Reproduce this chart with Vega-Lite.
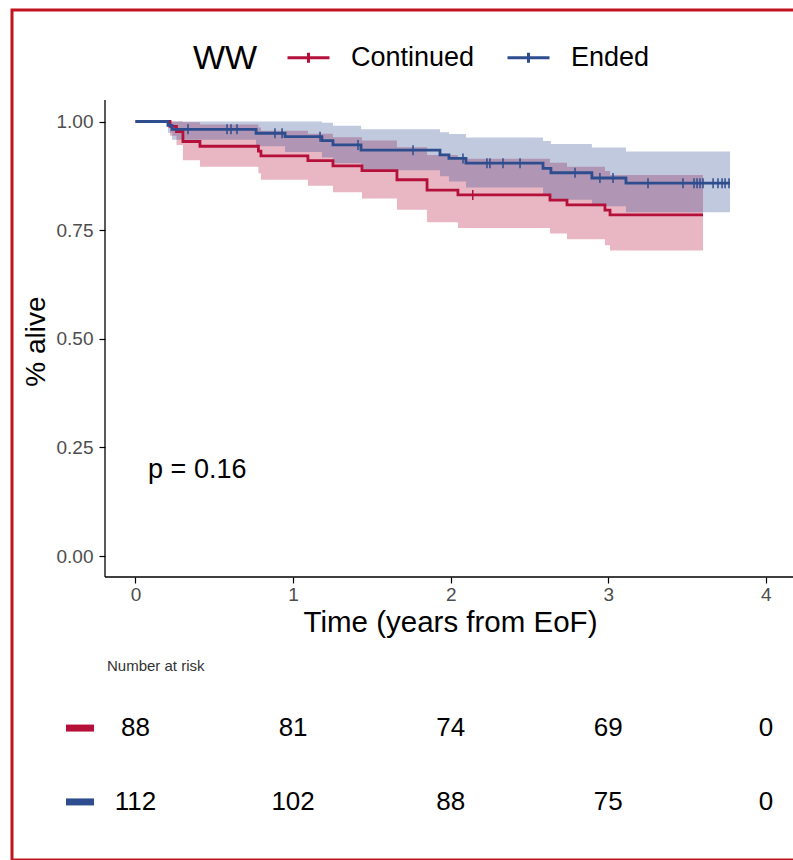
{
  "$schema": "https://vega.github.io/schema/vega-lite/v6.json",
  "autosize": {"type": "none"},
  "padding": {"left": 12, "top": 10, "right": -3, "bottom": 0},
  "width": 784,
  "height": 850,
  "background": "white",
  "config": {
    "font": "Liberation Sans",
    "view": {"stroke": "#C0141E", "strokeWidth": 3}
  },
  "datasets": {
    "km": [
      {"group": "Continued", "time": 0, "surv": 1, "lower": 1, "upper": 1},
      {"group": "Continued", "time": 0.219, "surv": 0.989, "lower": 0.967, "upper": 1},
      {"group": "Continued", "time": 0.26, "surv": 0.977, "lower": 0.946, "upper": 1},
      {"group": "Continued", "time": 0.301, "surv": 0.954, "lower": 0.911, "upper": 0.998},
      {"group": "Continued", "time": 0.409, "surv": 0.943, "lower": 0.896, "upper": 0.993},
      {"group": "Continued", "time": 0.78, "surv": 0.932, "lower": 0.881, "upper": 0.986},
      {"group": "Continued", "time": 0.796, "surv": 0.921, "lower": 0.866, "upper": 0.979},
      {"group": "Continued", "time": 1.094, "surv": 0.91, "lower": 0.852, "upper": 0.972},
      {"group": "Continued", "time": 1.253, "surv": 0.898, "lower": 0.837, "upper": 0.964},
      {"group": "Continued", "time": 1.437, "surv": 0.887, "lower": 0.823, "upper": 0.956},
      {"group": "Continued", "time": 1.659, "surv": 0.866, "lower": 0.797, "upper": 0.941},
      {"group": "Continued", "time": 1.85, "surv": 0.842, "lower": 0.768, "upper": 0.923},
      {"group": "Continued", "time": 2.046, "surv": 0.831, "lower": 0.755, "upper": 0.914},
      {"group": "Continued", "time": 2.63, "surv": 0.819, "lower": 0.742, "upper": 0.905},
      {"group": "Continued", "time": 2.738, "surv": 0.808, "lower": 0.729, "upper": 0.896},
      {"group": "Continued", "time": 2.979, "surv": 0.796, "lower": 0.715, "upper": 0.886},
      {"group": "Continued", "time": 3.011, "surv": 0.785, "lower": 0.703, "upper": 0.877},
      {"group": "Continued", "time": 3.601, "surv": 0.785, "lower": 0.703, "upper": 0.877},
      {"group": "Ended", "time": 0, "surv": 1, "lower": 1, "upper": 1},
      {"group": "Ended", "time": 0.206, "surv": 0.991, "lower": 0.974, "upper": 1},
      {"group": "Ended", "time": 0.232, "surv": 0.982, "lower": 0.958, "upper": 1},
      {"group": "Ended", "time": 0.765, "surv": 0.973, "lower": 0.943, "upper": 1},
      {"group": "Ended", "time": 0.949, "surv": 0.965, "lower": 0.93, "upper": 1},
      {"group": "Ended", "time": 1.183, "surv": 0.956, "lower": 0.917, "upper": 0.997},
      {"group": "Ended", "time": 1.253, "surv": 0.946, "lower": 0.904, "upper": 0.99},
      {"group": "Ended", "time": 1.431, "surv": 0.934, "lower": 0.888, "upper": 0.982},
      {"group": "Ended", "time": 1.932, "surv": 0.923, "lower": 0.874, "upper": 0.975},
      {"group": "Ended", "time": 1.989, "surv": 0.915, "lower": 0.862, "upper": 0.971},
      {"group": "Ended", "time": 2.097, "surv": 0.904, "lower": 0.848, "upper": 0.963},
      {"group": "Ended", "time": 2.586, "surv": 0.892, "lower": 0.833, "upper": 0.955},
      {"group": "Ended", "time": 2.636, "surv": 0.882, "lower": 0.82, "upper": 0.948},
      {"group": "Ended", "time": 2.896, "surv": 0.87, "lower": 0.805, "upper": 0.94},
      {"group": "Ended", "time": 3.112, "surv": 0.858, "lower": 0.791, "upper": 0.931},
      {"group": "Ended", "time": 3.772, "surv": 0.858, "lower": 0.791, "upper": 0.931}
    ],
    "censor": [
      {"group": "Continued", "time": 2.14, "surv": 0.831},
      {"group": "Ended", "time": 0.333, "surv": 0.982},
      {"group": "Ended", "time": 0.581, "surv": 0.982},
      {"group": "Ended", "time": 0.606, "surv": 0.982},
      {"group": "Ended", "time": 0.644, "surv": 0.982},
      {"group": "Ended", "time": 0.885, "surv": 0.973},
      {"group": "Ended", "time": 0.93, "surv": 0.973},
      {"group": "Ended", "time": 1.171, "surv": 0.965},
      {"group": "Ended", "time": 1.412, "surv": 0.946},
      {"group": "Ended", "time": 1.761, "surv": 0.934},
      {"group": "Ended", "time": 2.078, "surv": 0.915},
      {"group": "Ended", "time": 2.23, "surv": 0.904},
      {"group": "Ended", "time": 2.249, "surv": 0.904},
      {"group": "Ended", "time": 2.332, "surv": 0.904},
      {"group": "Ended", "time": 2.44, "surv": 0.904},
      {"group": "Ended", "time": 2.789, "surv": 0.882},
      {"group": "Ended", "time": 2.947, "surv": 0.87},
      {"group": "Ended", "time": 3.03, "surv": 0.87},
      {"group": "Ended", "time": 3.252, "surv": 0.858},
      {"group": "Ended", "time": 3.474, "surv": 0.858},
      {"group": "Ended", "time": 3.544, "surv": 0.858},
      {"group": "Ended", "time": 3.563, "surv": 0.858},
      {"group": "Ended", "time": 3.582, "surv": 0.858},
      {"group": "Ended", "time": 3.601, "surv": 0.858},
      {"group": "Ended", "time": 3.665, "surv": 0.858},
      {"group": "Ended", "time": 3.696, "surv": 0.858},
      {"group": "Ended", "time": 3.722, "surv": 0.858},
      {"group": "Ended", "time": 3.741, "surv": 0.858},
      {"group": "Ended", "time": 3.766, "surv": 0.858}
    ],
    "risk": [
      {"group": "Continued", "time": 0, "n": 88},
      {"group": "Continued", "time": 1, "n": 81},
      {"group": "Continued", "time": 2, "n": 74},
      {"group": "Continued", "time": 3, "n": 69},
      {"group": "Continued", "time": 4, "n": 0},
      {"group": "Ended", "time": 0, "n": 112},
      {"group": "Ended", "time": 1, "n": 102},
      {"group": "Ended", "time": 2, "n": 88},
      {"group": "Ended", "time": 3, "n": 75},
      {"group": "Ended", "time": 4, "n": 0}
    ]
  },
  "layer": [
    {
      "data": {"name": "km"},
      "mark": {"type": "area", "interpolate": "step-after", "fillOpacity": 0.3},
      "encoding": {
        "x": {
          "field": "time", "type": "quantitative",
          "scale": {"domain": [-0.7836, 4.1911], "nice": false, "zero": false},
          "axis": {
            "values": [0, 1, 2, 3, 4], "format": "d", "offset": -283,
            "domain": false, "grid": false,
            "tickSize": 6, "tickWidth": 1.2, "tickColor": "black",
            "labelFontSize": 19, "labelColor": "#4d4d4d", "labelPadding": 2,
            "title": "Time (years from EoF)", "titleFontSize": 29.5, "titleFontWeight": "normal",
            "titleColor": "black", "titleX": 438, "titleY": 45,
            "titleBaseline": "middle", "titleAlign": "center"
          }
        },
        "y": {
          "field": "upper", "type": "quantitative",
          "scale": {"domain": [-0.69965, 1.25662], "nice": false, "zero": false},
          "axis": {
            "values": [0, 0.25, 0.5, 0.75, 1], "format": ".2f", "offset": -93,
            "domain": false, "grid": false,
            "tickSize": 6, "tickWidth": 1.2, "tickColor": "black",
            "labelFontSize": 19, "labelColor": "#4d4d4d", "labelPadding": 6,
            "title": "% alive", "titleFontSize": 28, "titleFontWeight": "normal",
            "titleColor": "black", "titleX": -69, "titleY": 331,
            "titleBaseline": "middle", "titleAlign": "center"
          }
        },
        "y2": {"field": "lower"},
        "color": {
          "field": "group", "type": "nominal",
          "scale": {"domain": ["Continued", "Ended"], "range": ["#B5103A", "#2E4D8E"]}
        }
      }
    },
    {
      "data": {"name": "km"},
      "mark": {"type": "line", "interpolate": "step-after", "strokeWidth": 2.8},
      "encoding": {
        "x": {"field": "time", "type": "quantitative"},
        "y": {"field": "surv", "type": "quantitative"},
        "color": {
          "field": "group", "type": "nominal",
          "legend": {
            "orient": "none", "legendX": 274, "legendY": 25,
            "direction": "horizontal",
            "title": null,
            "labelFontSize": 27, "labelColor": "black", "labelOffset": 20,
            "columnPadding": 26,
            "symbolType": "M-1,0H1M0,-0.24V0.24", "symbolSize": 1764,
            "symbolStrokeWidth": 3, "symbolOpacity": 1
          }
        }
      }
    },
    {
      "data": {"name": "censor"},
      "mark": {"type": "point", "shape": "M0,-1V1", "size": 100, "strokeWidth": 1.5, "filled": false, "opacity": 1},
      "encoding": {
        "x": {"field": "time", "type": "quantitative"},
        "y": {"field": "surv", "type": "quantitative"},
        "color": {"field": "group", "type": "nominal"}
      }
    },
    {
      "data": {"values": [{}]},
      "mark": {"type": "rule", "color": "black", "strokeWidth": 1.3},
      "encoding": {
        "x": {"datum": -0.1935},
        "y": {"datum": -0.0483},
        "y2": {"datum": 1.0495}
      }
    },
    {
      "data": {"values": [{}]},
      "mark": {"type": "rule", "color": "black", "strokeWidth": 1.3},
      "encoding": {
        "x": {"datum": -0.1935},
        "x2": {"datum": 4.1911},
        "y": {"datum": -0.0483}
      }
    },
    {
      "data": {"values": [{"label": "WW"}]},
      "mark": {"type": "text", "align": "left", "baseline": "middle", "fontSize": 34, "color": "black"},
      "encoding": {
        "x": {"datum": 0.365},
        "y": {"datum": 1.144},
        "text": {"field": "label"}
      }
    },
    {
      "data": {"values": [{"label": "p = 0.16"}]},
      "mark": {"type": "text", "align": "left", "baseline": "middle", "fontSize": 27, "color": "black"},
      "encoding": {
        "x": {"datum": 0.08},
        "y": {"datum": 0.198},
        "text": {"field": "label"}
      }
    },
    {
      "data": {"values": [{"label": "Number at risk"}]},
      "mark": {"type": "text", "align": "left", "baseline": "middle", "fontSize": 15, "color": "#333333"},
      "encoding": {
        "x": {"datum": -0.181},
        "y": {"datum": -0.253},
        "text": {"field": "label"}
      }
    },
    {
      "data": {"name": "risk"},
      "transform": [{"filter": "datum.group == 'Continued'"}],
      "mark": {"type": "text", "align": "center", "baseline": "middle", "fontSize": 26, "color": "black"},
      "encoding": {
        "x": {"field": "time", "type": "quantitative"},
        "y": {"datum": -0.396},
        "text": {"field": "n", "type": "quantitative"}
      }
    },
    {
      "data": {"name": "risk"},
      "transform": [{"filter": "datum.group == 'Ended'"}],
      "mark": {"type": "text", "align": "center", "baseline": "middle", "fontSize": 26, "color": "black"},
      "encoding": {
        "x": {"field": "time", "type": "quantitative"},
        "y": {"datum": -0.566},
        "text": {"field": "n", "type": "quantitative"}
      }
    },
    {
      "data": {"name": "risk"},
      "transform": [{"filter": "datum.group == 'Continued' && datum.time == 0"}],
      "mark": {"type": "rule", "strokeWidth": 7},
      "encoding": {
        "x": {"datum": -0.441},
        "x2": {"datum": -0.263},
        "y": {"datum": -0.396},
        "color": {"field": "group", "type": "nominal"}
      }
    },
    {
      "data": {"name": "risk"},
      "transform": [{"filter": "datum.group == 'Ended' && datum.time == 0"}],
      "mark": {"type": "rule", "strokeWidth": 7},
      "encoding": {
        "x": {"datum": -0.441},
        "x2": {"datum": -0.263},
        "y": {"datum": -0.566},
        "color": {"field": "group", "type": "nominal"}
      }
    }
  ]
}
